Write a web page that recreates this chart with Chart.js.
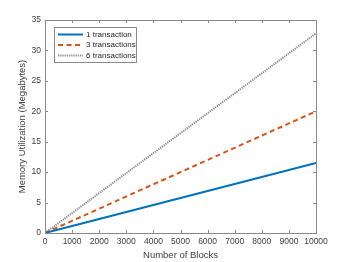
<!DOCTYPE html>
<html><head><meta charset="utf-8">
<script src="https://cdn.jsdelivr.net/npm/chart.js@4"></script>
<style>html,body{margin:0;padding:0;background:#fff}#wrap{width:349px;height:262px}</style>
</head><body><div id="wrap"><canvas id="c" width="349" height="262"></canvas></div>
<script>
const blocks = [0,1000,2000,3000,4000,5000,6000,7000,8000,9000,10000];
const tx1 = [0,1.15,2.3,3.45,4.6,5.75,6.9,8.05,9.2,10.35,11.5];
const tx3 = [0,2.0,4.0,6.0,8.0,10.0,12.0,14.0,16.0,18.0,20.0];
const tx6 = [0,3.28,6.56,9.84,13.12,16.4,19.68,22.96,26.24,29.52,32.8];
const seriesNames = ['1 transaction','3 transactions','6 transactions'];
const xTicks = [0,1000,2000,3000,4000,5000,6000,7000,8000,9000,10000];
const yTicks = [0,5,10,15,20,25,30,35];

const font = 'Liberation Sans, Arial, sans-serif';
const pts = a => blocks.map((b,i)=>({x:b,y:a[i]}));

const boxPlugin = {
  id:'box',
  afterDatasetsDraw(chart){
    const {ctx, chartArea:a, scales:{x,y}} = chart;
    ctx.save();
    ctx.strokeStyle='#8a8a8a'; ctx.lineWidth=1;
    ctx.strokeRect(Math.round(a.left)+0.5, Math.round(a.top)+0.5, Math.round(a.right-a.left), Math.round(a.bottom-a.top));
    ctx.beginPath();
    xTicks.forEach(v=>{const p=Math.round(x.getPixelForValue(v))+0.5;
      ctx.moveTo(p,a.bottom); ctx.lineTo(p,a.bottom-3);
      ctx.moveTo(p,a.top); ctx.lineTo(p,a.top+3);});
    yTicks.forEach(v=>{const p=Math.round(y.getPixelForValue(v))+0.5;
      ctx.moveTo(a.left,p); ctx.lineTo(a.left+3,p);
      ctx.moveTo(a.right,p); ctx.lineTo(a.right-3,p);});
    ctx.stroke();
    // legend
    const lx=54, ly=27, lw=82, lh=35;
    ctx.fillStyle='#fff'; ctx.fillRect(lx,ly,lw,lh);
    ctx.strokeStyle='#8a8a8a'; ctx.strokeRect(lx+0.5,ly+0.5,lw,lh);
    ctx.font='8px '+font; ctx.fillStyle='#262626'; ctx.textBaseline='middle';
    chart.data.datasets.forEach((ds,i)=>{
      const yy = ly+7.5+i*10.5;
      ctx.save();
      ctx.strokeStyle=ds.borderColor; ctx.lineWidth=ds.borderWidth;
      ctx.setLineDash(ds.borderDash||[]);
      ctx.beginPath(); ctx.moveTo(lx+4,yy); ctx.lineTo(lx+29,yy); ctx.stroke();
      ctx.restore();
      ctx.fillText(ds.label, lx+32, yy);
    });
    ctx.restore();
  }
};

new Chart(document.getElementById('c'), {
  type:'line',
  data:{datasets:[
    {label:seriesNames[0], data:pts(tx1), borderColor:'#0072BD', borderWidth:2, pointRadius:0, tension:0},
    {label:seriesNames[1], data:pts(tx3), borderColor:'#D95319', borderWidth:2, borderDash:[5,3.5], pointRadius:0, tension:0},
    {label:seriesNames[2], data:pts(tx6), borderColor:'#8f8f8f', borderWidth:2, borderDash:[1.3,0.9], pointRadius:0, tension:0}
  ]},
  options:{
    responsive:false, animation:false, devicePixelRatio:1,
    layout:{padding:{top:20,right:33,left:0,bottom:0}},
    plugins:{legend:{display:false}, tooltip:{enabled:false}},
    scales:{
      x:{type:'linear', min:0, max:10000,
        afterBuildTicks(s){s.ticks=xTicks.map(v=>({value:v}));},
        afterFit(s){s.height=29;},
        grid:{display:false, drawTicks:false}, border:{display:false},
        ticks:{padding:4, color:'#404040', font:{family:font,size:8.5}, maxRotation:0, autoSkip:false, callback:v=>String(v)},
        title:{display:true, text:'Number of Blocks', color:'#404040', font:{family:font,size:9.5}, padding:{top:0,bottom:1}}
      },
      y:{type:'linear', min:0, max:35,
        afterBuildTicks(s){s.ticks=yTicks.map(v=>({value:v}));},
        afterFit(s){s.width=45;},
        grid:{display:false, drawTicks:false}, border:{display:false},
        ticks:{padding:4, color:'#404040', font:{family:font,size:8.5}, autoSkip:false},
        title:{display:true, text:'Memory Utilization (Megabytes)', color:'#404040', font:{family:font,size:9.5}, padding:{top:17,bottom:0}}
      }
    }
  },
  plugins:[boxPlugin]
});
</script></body></html>
